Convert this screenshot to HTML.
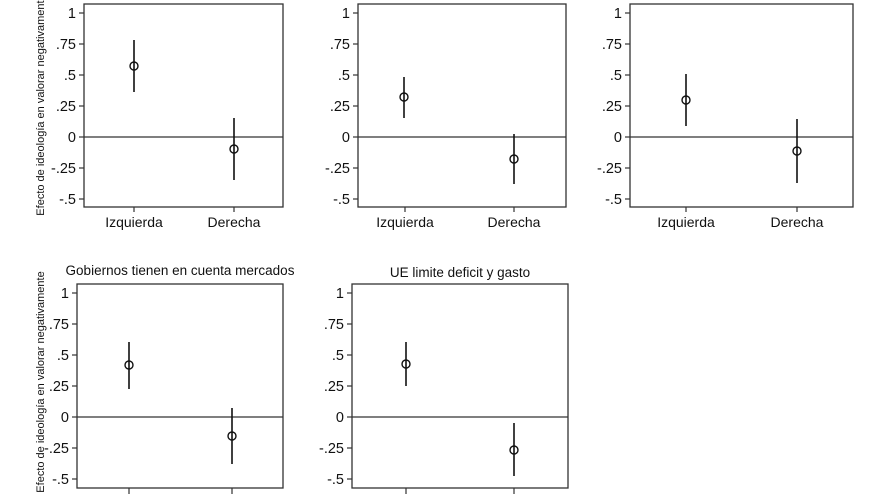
<!DOCTYPE html>
<html><head><meta charset="utf-8"><style>
html,body{margin:0;padding:0;background:#fff;}
svg{display:block;font-family:"Liberation Sans",Arial,sans-serif;}
.f{fill:none;stroke:#333;stroke-width:1.3}
.l{stroke:#111;stroke-width:1.6}
.z{stroke:#333;stroke-width:1.2}
.t{font-size:14.5px;fill:#111;text-anchor:end}
.x{font-size:14px;fill:#111;text-anchor:middle}
.c{fill:none;stroke:#111;stroke-width:1.4}
</style></head><body>
<svg width="880" height="495" viewBox="0 0 880 495">
<text transform="translate(44,105) rotate(-90)" text-anchor="middle" font-size="11" fill="#111">Efecto de ideología en valorar negativamente</text>
<text transform="translate(44,382) rotate(-90)" text-anchor="middle" font-size="11" fill="#111">Efecto de ideología en valorar negativamente</text>

<g>
<rect class="f" x="84" y="4" width="199" height="203"/>
<line class="z" x1="84" y1="137" x2="283" y2="137"/>
<g class="z"><line x1="79" y1="13" x2="84" y2="13"/><line x1="79" y1="44" x2="84" y2="44"/><line x1="79" y1="75" x2="84" y2="75"/><line x1="79" y1="106" x2="84" y2="106"/><line x1="79" y1="137" x2="84" y2="137"/><line x1="79" y1="168" x2="84" y2="168"/><line x1="79" y1="199" x2="84" y2="199"/>
<line x1="134" y1="207" x2="134" y2="212"/><line x1="234" y1="207" x2="234" y2="212"/></g>
<text class="t" x="76" y="18">1</text><text class="t" x="76" y="49">.75</text><text class="t" x="76" y="80">.5</text><text class="t" x="76" y="111">.25</text><text class="t" x="76" y="142">0</text><text class="t" x="76" y="173">-.25</text><text class="t" x="76" y="204">-.5</text>
<text class="x" x="134" y="227">Izquierda</text><text class="x" x="234" y="227">Derecha</text>
<line class="l" x1="134" y1="40" x2="134" y2="92"/><circle class="c" cx="134" cy="66" r="4"/>
<line class="l" x1="234" y1="118" x2="234" y2="180"/><circle class="c" cx="234" cy="149" r="4"/>
</g>

<g>
<rect class="f" x="358" y="4" width="208" height="203"/>
<line class="z" x1="358" y1="137" x2="566" y2="137"/>
<g class="z"><line x1="353" y1="13" x2="358" y2="13"/><line x1="353" y1="44" x2="358" y2="44"/><line x1="353" y1="75" x2="358" y2="75"/><line x1="353" y1="106" x2="358" y2="106"/><line x1="353" y1="137" x2="358" y2="137"/><line x1="353" y1="168" x2="358" y2="168"/><line x1="353" y1="199" x2="358" y2="199"/>
<line x1="405" y1="207" x2="405" y2="212"/><line x1="514" y1="207" x2="514" y2="212"/></g>
<text class="t" x="350" y="18">1</text><text class="t" x="350" y="49">.75</text><text class="t" x="350" y="80">.5</text><text class="t" x="350" y="111">.25</text><text class="t" x="350" y="142">0</text><text class="t" x="350" y="173">-.25</text><text class="t" x="350" y="204">-.5</text>
<text class="x" x="405" y="227">Izquierda</text><text class="x" x="514" y="227">Derecha</text>
<line class="l" x1="404" y1="77" x2="404" y2="118"/><circle class="c" cx="404" cy="97" r="4"/>
<line class="l" x1="514" y1="134" x2="514" y2="184"/><circle class="c" cx="514" cy="159" r="4"/>
</g>

<g>
<rect class="f" x="630" y="4" width="223" height="203"/>
<line class="z" x1="630" y1="137" x2="853" y2="137"/>
<g class="z"><line x1="625" y1="13" x2="630" y2="13"/><line x1="625" y1="44" x2="630" y2="44"/><line x1="625" y1="75" x2="630" y2="75"/><line x1="625" y1="106" x2="630" y2="106"/><line x1="625" y1="137" x2="630" y2="137"/><line x1="625" y1="168" x2="630" y2="168"/><line x1="625" y1="199" x2="630" y2="199"/>
<line x1="686" y1="207" x2="686" y2="212"/><line x1="797" y1="207" x2="797" y2="212"/></g>
<text class="t" x="622" y="18">1</text><text class="t" x="622" y="49">.75</text><text class="t" x="622" y="80">.5</text><text class="t" x="622" y="111">.25</text><text class="t" x="622" y="142">0</text><text class="t" x="622" y="173">-.25</text><text class="t" x="622" y="204">-.5</text>
<text class="x" x="686" y="227">Izquierda</text><text class="x" x="797" y="227">Derecha</text>
<line class="l" x1="686" y1="74" x2="686" y2="126"/><circle class="c" cx="686" cy="100" r="4"/>
<line class="l" x1="797" y1="119" x2="797" y2="183"/><circle class="c" cx="797" cy="151" r="4"/>
</g>

<g>
<text x="180" y="275" text-anchor="middle" font-size="13.5" fill="#111">Gobiernos tienen en cuenta mercados</text>
<rect class="f" x="77" y="284" width="206" height="204"/>
<line class="z" x1="77" y1="417" x2="283" y2="417"/>
<g class="z"><line x1="72" y1="293" x2="77" y2="293"/><line x1="72" y1="324" x2="77" y2="324"/><line x1="72" y1="355" x2="77" y2="355"/><line x1="72" y1="386" x2="77" y2="386"/><line x1="72" y1="417" x2="77" y2="417"/><line x1="72" y1="448" x2="77" y2="448"/><line x1="72" y1="479" x2="77" y2="479"/>
<line x1="129" y1="488" x2="129" y2="494"/><line x1="232" y1="488" x2="232" y2="494"/></g>
<text class="t" x="69" y="298">1</text><text class="t" x="69" y="329">.75</text><text class="t" x="69" y="360">.5</text><text class="t" x="69" y="391">.25</text><text class="t" x="69" y="422">0</text><text class="t" x="69" y="453">-.25</text><text class="t" x="69" y="484">-.5</text>
<line class="l" x1="129" y1="342" x2="129" y2="389"/><circle class="c" cx="129" cy="365" r="4"/>
<line class="l" x1="232" y1="408" x2="232" y2="464"/><circle class="c" cx="232" cy="436" r="4"/>
</g>

<g>
<text x="460" y="277" text-anchor="middle" font-size="13.5" fill="#111">UE limite deficit y gasto</text>
<rect class="f" x="352" y="284" width="216" height="204"/>
<line class="z" x1="352" y1="417" x2="568" y2="417"/>
<g class="z"><line x1="347" y1="293" x2="352" y2="293"/><line x1="347" y1="324" x2="352" y2="324"/><line x1="347" y1="355" x2="352" y2="355"/><line x1="347" y1="386" x2="352" y2="386"/><line x1="347" y1="417" x2="352" y2="417"/><line x1="347" y1="448" x2="352" y2="448"/><line x1="347" y1="479" x2="352" y2="479"/>
<line x1="406" y1="488" x2="406" y2="494"/><line x1="514" y1="488" x2="514" y2="494"/></g>
<text class="t" x="344" y="298">1</text><text class="t" x="344" y="329">.75</text><text class="t" x="344" y="360">.5</text><text class="t" x="344" y="391">.25</text><text class="t" x="344" y="422">0</text><text class="t" x="344" y="453">-.25</text><text class="t" x="344" y="484">-.5</text>
<line class="l" x1="406" y1="342" x2="406" y2="386"/><circle class="c" cx="406" cy="364" r="4"/>
<line class="l" x1="514" y1="423" x2="514" y2="476"/><circle class="c" cx="514" cy="450" r="4"/>
</g>
</svg>
</body></html>
